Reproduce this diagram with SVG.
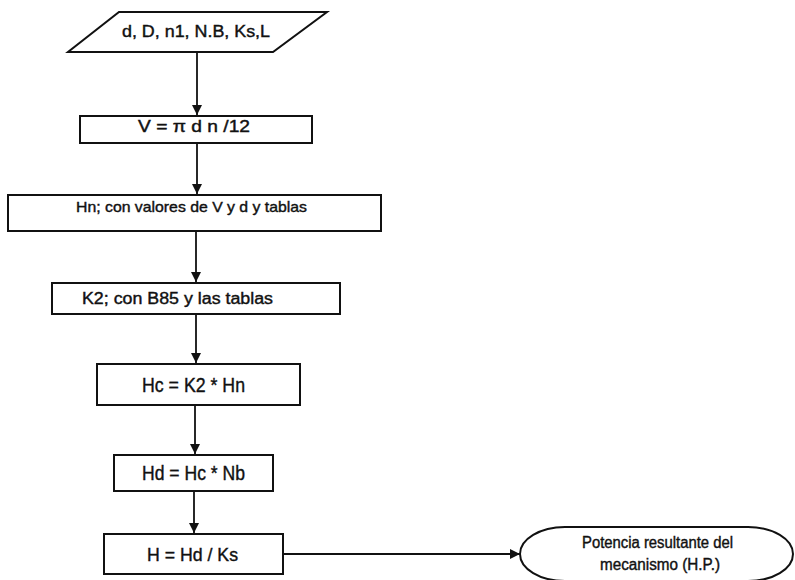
<svg xmlns="http://www.w3.org/2000/svg" width="795" height="580" viewBox="0 0 795 580">
<defs>
<style>
.box{fill:#ffffff;stroke:#111;stroke-width:2}
.ln{fill:none;stroke:#111;stroke-width:1.8}
text{font-family:"Liberation Sans",Arial,sans-serif;fill:#111;stroke:#111;stroke-width:0.4;text-anchor:start}
</style>
<marker id="ah" markerWidth="10" markerHeight="10" viewBox="0 0 10 10" refX="10" refY="5" orient="auto" markerUnits="userSpaceOnUse">
<path d="M0,0 L10,5 L0,10 Z" fill="#111"/>
</marker>
</defs>
<rect width="795" height="580" fill="#ffffff"/>
<g id="connectors">
<line class="ln" x1="197" y1="52" x2="197" y2="115" marker-end="url(#ah)"/>
<line class="ln" x1="197" y1="143" x2="197" y2="194" marker-end="url(#ah)"/>
<line class="ln" x1="196" y1="231" x2="196" y2="282" marker-end="url(#ah)"/>
<line class="ln" x1="196" y1="314" x2="196" y2="363" marker-end="url(#ah)"/>
<line class="ln" x1="195" y1="405" x2="195" y2="454" marker-end="url(#ah)"/>
<line class="ln" x1="194" y1="491" x2="194" y2="533" marker-end="url(#ah)"/>
<line class="ln" x1="283" y1="554" x2="520" y2="554" marker-end="url(#ah)"/>
</g>
<g id="input">
<polygon class="box" points="119,12 327,12 273,52 68,52"/>
<text x="122" y="37" font-size="16" textLength="148" lengthAdjust="spacingAndGlyphs">d, D, n1, N.B, Ks,L</text>
</g>
<g id="v">
<rect class="box" x="80" y="116" width="232" height="27"/>
<text x="138" y="132" font-size="16" textLength="112" lengthAdjust="spacingAndGlyphs">V  = π d n /12</text>
</g>
<g id="hn">
<rect class="box" x="8" y="195" width="373" height="36"/>
<text x="76" y="212" font-size="15" textLength="231" lengthAdjust="spacingAndGlyphs">Hn; con valores de  V y d y tablas</text>
</g>
<g id="k2">
<rect class="box" x="52" y="283" width="288" height="31"/>
<text x="82" y="304" font-size="16" textLength="191" lengthAdjust="spacingAndGlyphs">K2; con B85 y las tablas</text>
</g>
<g id="hc">
<rect class="box" x="97" y="364" width="203" height="41"/>
<text x="142" y="392" font-size="21" textLength="103" lengthAdjust="spacingAndGlyphs">Hc = K2 * Hn</text>
</g>
<g id="hd">
<rect class="box" x="114" y="455" width="159" height="36"/>
<text x="142" y="480" font-size="20" textLength="103" lengthAdjust="spacingAndGlyphs">Hd = Hc * Nb</text>
</g>
<g id="h">
<rect class="box" x="104" y="534" width="179" height="40"/>
<text x="147" y="561" font-size="19" textLength="91" lengthAdjust="spacingAndGlyphs">H = Hd / Ks</text>
</g>
<g id="result">
<rect class="box" x="520" y="527" width="273" height="54" rx="45" ry="27"/>
<text x="582" y="548" font-size="16" textLength="151" lengthAdjust="spacingAndGlyphs">Potencia resultante del</text>
<text x="600" y="570" font-size="16" textLength="120" lengthAdjust="spacingAndGlyphs">mecanismo (H.P.)</text>
</g>
</svg>
